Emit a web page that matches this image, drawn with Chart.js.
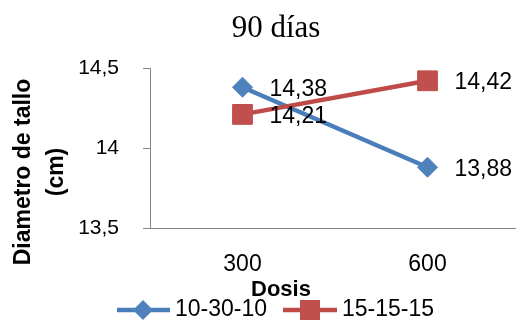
<!DOCTYPE html>
<html>
<head>
<meta charset="utf-8">
<script src="https://cdn.jsdelivr.net/npm/chart.js@4.4.0/dist/chart.umd.min.js"></script>
<style>
  html, body { margin: 0; padding: 0; background: #fff; overflow: hidden; }
  #wrap { width: 520px; height: 320px; }
</style>
</head>
<body>
<div id="wrap"><canvas id="graph" width="520" height="320"></canvas></div>
<script>
const dosis = ["300", "600"];
const serie1 = [14.38, 13.88];
const serie2 = [14.21, 14.42];
const seriesNames = ["10-30-10", "15-15-15"];
const yTicks = [13.5, 14, 14.5];
const chartTitle = "90 días";
const xTitle = "Dosis";
const yTitle = ["Diametro de tallo", "(cm)"];

const blueLine = "#4A7EBB", blueMark = "#4F81BD";
const redLine = "#BE4B48", redMark = "#C0504D";
const sans = "'Liberation Sans', Arial, sans-serif";

function fmt(v) {
  return String(v).replace(".", ",");
}

function diamond(ctx, x, y, r, color) {
  ctx.fillStyle = color;
  ctx.beginPath();
  ctx.moveTo(x, y - r);
  ctx.lineTo(x + r, y);
  ctx.lineTo(x, y + r);
  ctx.lineTo(x - r, y);
  ctx.closePath();
  ctx.fill();
}

const decorations = {
  id: "decorations",
  afterDatasetsDraw(chart) {
    const ctx = chart.ctx;
    ctx.save();
    ctx.font = "23px " + sans;
    ctx.fillStyle = "#000";
    ctx.textAlign = "left";
    ctx.textBaseline = "middle";
    chart.data.datasets.forEach((ds, i) => {
      chart.getDatasetMeta(i).data.forEach((pt, j) => {
        ctx.fillText(fmt(ds.data[j]), pt.x + 27, pt.y + 2);
      });
    });
    ctx.restore();
  },
  afterDraw(chart) {
    const ctx = chart.ctx;
    ctx.save();
    ctx.fillStyle = "#000";

    // titulo
    ctx.font = "31px 'Liberation Serif', 'Times New Roman', serif";
    ctx.textAlign = "center";
    ctx.textBaseline = "alphabetic";
    ctx.fillText(chartTitle, 276, 37);

    // titulo eje x
    ctx.font = "bold 22px " + sans;
    ctx.textBaseline = "middle";
    ctx.fillText(xTitle, 281, 290);

    // titulo eje y
    ctx.save();
    ctx.translate(0, 172);
    ctx.rotate(-Math.PI / 2);
    ctx.font = "bold 23px " + sans;
    ctx.fillText(yTitle[0], 0, 24);
    ctx.fillText(yTitle[1], 0, 57);
    ctx.restore();

    // leyenda
    const ly = 310;
    ctx.lineWidth = 4.5;
    ctx.strokeStyle = blueLine;
    ctx.beginPath(); ctx.moveTo(117, ly); ctx.lineTo(170, ly); ctx.stroke();
    diamond(ctx, 143, ly, 10, blueMark);
    ctx.strokeStyle = redLine;
    ctx.beginPath(); ctx.moveTo(283, ly); ctx.lineTo(337, ly); ctx.stroke();
    ctx.fillStyle = redMark;
    ctx.fillRect(300, ly - 10, 20, 20);

    ctx.fillStyle = "#000";
    ctx.font = "23px " + sans;
    ctx.textAlign = "left";
    ctx.fillText(seriesNames[0], 175, ly);
    ctx.fillText(seriesNames[1], 342, ly);
    ctx.restore();
  }
};

new Chart(document.getElementById("graph").getContext("2d"), {
  type: "line",
  data: {
    labels: dosis,
    datasets: [
      {
        label: seriesNames[0],
        data: serie1,
        borderColor: blueLine,
        backgroundColor: blueMark,
        borderWidth: 4.5,
        pointStyle: "rectRot",
        pointRadius: 10,
        pointBackgroundColor: blueMark,
        pointBorderColor: blueMark,
        pointBorderWidth: 1,
        tension: 0,
        order: 1,
      },
      {
        label: seriesNames[1],
        data: serie2,
        borderColor: redLine,
        backgroundColor: redMark,
        borderWidth: 4.5,
        pointStyle: "rect",
        pointRadius: 14,
        pointBackgroundColor: redMark,
        pointBorderColor: redMark,
        pointBorderWidth: 1,
        tension: 0,
        order: 0,
      },
    ],
  },
  options: {
    responsive: false,
    animation: false,
    events: [],
    layout: { autoPadding: false, padding: { top: 68, left: 0, right: 0, bottom: 0 } },
    plugins: {
      legend: { display: false },
      title: { display: false },
      tooltip: { enabled: false },
    },
    scales: {
      x: {
        offset: true,
        grid: { display: false },
        border: { display: true, color: "#868686", width: 1 },
        afterFit: s => { s.height = 92; },
        ticks: { font: { family: sans, size: 23 }, color: "#000", padding: 15 },
      },
      y: {
        min: 13.5,
        max: 14.5,
        afterBuildTicks: s => { s.ticks = yTicks.map(v => ({ value: v })); },
        afterFit: s => { s.width = 150; },
        grid: { drawOnChartArea: false, drawTicks: true, tickLength: 7, color: "#868686" },
        border: { color: "#868686", width: 1 },
        ticks: { font: { family: sans, size: 21 }, color: "#000", padding: 24, callback: v => fmt(v) },
      },
    },
  },
  plugins: [decorations],
});
</script>
</body>
</html>
